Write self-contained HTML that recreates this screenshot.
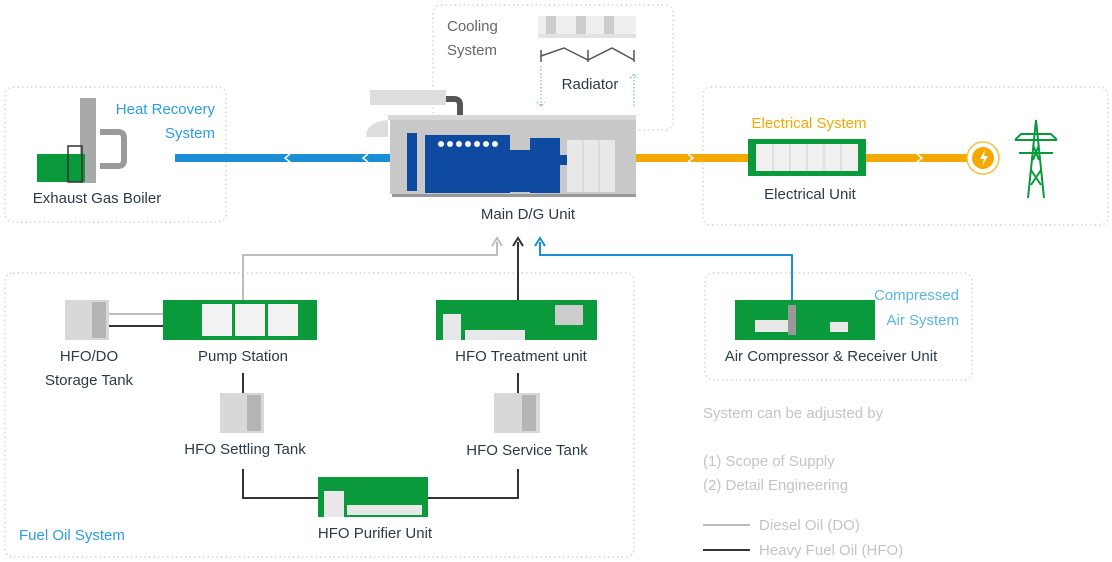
<!DOCTYPE html>
<html><head><meta charset="utf-8"><style>
html,body{margin:0;padding:0;background:#fff;}
svg{display:block;font-family:"Liberation Sans",sans-serif;}
</style></head><body>
<svg width="1112" height="562" viewBox="0 0 1112 562" xmlns="http://www.w3.org/2000/svg">
<g fill="none" stroke="#cfd6de" stroke-width="1.5" stroke-dasharray="1.5 3">
<rect x="5" y="87" width="221" height="135" rx="8"/>
<rect x="433" y="5" width="240" height="125" rx="8"/>
<rect x="703" y="87" width="405" height="138" rx="8"/>
<rect x="5" y="273" width="629" height="284" rx="8"/>
<rect x="705" y="273" width="267" height="107" rx="8"/>
</g>
<!-- heat recovery -->
<text x="215" y="114" font-size="15" fill="#2a9ee0" text-anchor="end">Heat Recovery</text>
<text x="215" y="138" font-size="15" fill="#2a9ee0" text-anchor="end">System</text>
<path d="M100 132 H118 Q124 132 124 138 V160 Q124 166 118 166 H100" fill="none" stroke="#9a9a9a" stroke-width="6"/>
<rect x="80" y="98" width="16" height="85" fill="#a9a9a9"/>
<rect x="37" y="154" width="48" height="28" fill="#0a9a3c"/>
<rect x="68" y="146" width="14" height="36" fill="none" stroke="#333" stroke-width="1.5"/>
<text x="97" y="203" font-size="15" fill="#2b3a4a" text-anchor="middle">Exhaust Gas Boiler</text>
<rect x="175" y="154" width="215" height="8" fill="#1a8fd6"/>
<path d="M290 154 l-5 4 l5 4" stroke="#fff" stroke-width="1.5" fill="none"/>
<path d="M368 154 l-5 4 l5 4" stroke="#fff" stroke-width="1.5" fill="none"/>
<!-- cooling -->
<text x="447" y="31" font-size="15" fill="#666">Cooling</text>
<text x="447" y="55" font-size="15" fill="#666">System</text>
<rect x="538" y="16" width="98" height="20" fill="#eee"/>
<rect x="546" y="16" width="10" height="18" fill="#ccc"/><rect x="576" y="16" width="10" height="18" fill="#ccc"/><rect x="604" y="16" width="10" height="18" fill="#ccc"/>
<rect x="538" y="34" width="98" height="4" fill="#e2e2e2"/>
<path d="M541 50 V62 M541 56 L564 48 L588 60 L612 48 L634 60 M588 50 V62 M634 50 V62" stroke="#555" stroke-width="1.5" fill="none"/>
<text x="590" y="89" font-size="15" fill="#2b3a4a" text-anchor="middle">Radiator</text>
<path d="M541 66 V106 M537 102 l4 4 l4 -4" stroke="#4cb870" stroke-width="1" stroke-dasharray="1.5 2" fill="none"/>
<path d="M634 106 V74 M630 78 l4 -4 l4 4" stroke="#4cb870" stroke-width="1" stroke-dasharray="1.5 2" fill="none"/>
<!-- main unit -->
<rect x="370" y="90" width="76" height="15" fill="#ddd"/>
<path d="M446 99 H454 Q460 99 460 105 V116" stroke="#555" stroke-width="6" fill="none"/>
<path d="M366 137 Q366 122 388 120 V137 Z" fill="#ddd"/>
<rect x="388" y="115" width="248" height="5" fill="#d8d8d8"/>
<rect x="390" y="120" width="246" height="74" fill="#c8c8c8"/>
<rect x="392" y="194" width="244" height="3" fill="#999"/>
<rect x="407" y="133" width="10" height="58" fill="#0d4aa0"/>
<rect x="425" y="135" width="85" height="58" fill="#0d4aa0"/>
<g fill="#fff"><circle cx="441" cy="144" r="3"/><circle cx="450" cy="144" r="3"/><circle cx="459" cy="144" r="3"/><circle cx="468" cy="144" r="3"/><circle cx="477" cy="144" r="3"/><circle cx="486" cy="144" r="3"/><circle cx="495" cy="144" r="3"/></g>
<rect x="505" y="150" width="30" height="42" fill="#0d4aa0"/>
<rect x="530" y="138" width="30" height="55" fill="#0d4aa0"/>
<rect x="560" y="155" width="8" height="10" fill="#0d4aa0"/>
<rect x="567" y="140" width="48" height="52" fill="#e8e8e8"/>
<path d="M583 140 V192 M599 140 V192" stroke="#ccc"/>
<text x="528" y="219" font-size="15" fill="#2b3a4a" text-anchor="middle">Main D/G Unit</text>
<!-- electrical -->
<text x="809" y="128" font-size="15" fill="#f5a800" text-anchor="middle">Electrical System</text>
<rect x="636" y="154" width="332" height="8" fill="#f5a800"/>
<path d="M688 154 l5 4 l-5 4 M812 154 l5 4 l-5 4 M917 154 l5 4 l-5 4" stroke="#fff" stroke-width="1.5" fill="none"/>
<rect x="748" y="139" width="118" height="37" fill="#0a9a3c"/>
<rect x="756" y="144" width="102" height="27" fill="#f0f0f0"/>
<path d="M773 144 V171 M790 144 V171 M807 144 V171 M824 144 V171 M841 144 V171" stroke="#ccc"/>
<text x="810" y="199" font-size="15" fill="#2b3a4a" text-anchor="middle">Electrical Unit</text>
<circle cx="983" cy="158" r="16" fill="#fff" stroke="#f5c040" stroke-width="1.5"/>
<circle cx="983" cy="158" r="11" fill="#f5a800"/>
<path d="M985 150 l-5 9 h4 l-2 7 l6 -10 h-4 z" fill="#fff"/>
<g stroke="#0a9a3c" stroke-width="2" fill="none">
<path d="M1028 198 L1036 120 L1044 198 M1031 170 L1041 185 M1041 170 L1031 185 M1033 145 L1039 160 M1039 145 L1033 160"/>
<path d="M1015 140 H1057 M1019 153 H1053 M1015 140 l6 -6 h30 l6 6"/>
</g>
<!-- connectors to main -->
<path d="M243 300 V255 H497 V242" stroke="#bdbdbd" stroke-width="2" fill="none"/>
<path d="M492 246 l5 -8 l5 8" stroke="#bdbdbd" stroke-width="2" fill="none"/>
<path d="M518 300 V242" stroke="#333" stroke-width="2" fill="none"/>
<path d="M513 246 l5 -8 l5 8" stroke="#333" stroke-width="2" fill="none"/>
<path d="M792 308 V255 H540 V242" stroke="#1a8fd6" stroke-width="2" fill="none"/>
<path d="M535 246 l5 -8 l5 8" stroke="#1a8fd6" stroke-width="2" fill="none"/>
<!-- fuel -->
<rect x="65" y="300" width="44" height="40" fill="#d8d8d8"/><rect x="92" y="302" width="14" height="36" fill="#b5b5b5"/>
<path d="M109 314 H165" stroke="#bdbdbd" stroke-width="2"/><path d="M109 326 H165" stroke="#333" stroke-width="2"/>
<rect x="163" y="300" width="154" height="40" fill="#0a9a3c"/>
<rect x="202" y="304" width="30" height="32" fill="#f2f2f2"/><rect x="235" y="304" width="30" height="32" fill="#f2f2f2"/><rect x="268" y="304" width="30" height="32" fill="#f2f2f2"/>
<text x="243" y="361" font-size="15" fill="#2b3a4a" text-anchor="middle">Pump Station</text>
<text x="89" y="361" font-size="15" fill="#2b3a4a" text-anchor="middle">HFO/DO</text>
<text x="89" y="385" font-size="15" fill="#2b3a4a" text-anchor="middle">Storage Tank</text>
<rect x="436" y="300" width="161" height="40" fill="#0a9a3c"/>
<rect x="443" y="314" width="18" height="26" fill="#e8e8e8"/><rect x="465" y="330" width="60" height="10" fill="#e8e8e8"/><rect x="555" y="305" width="28" height="20" fill="#ccc"/>
<text x="521" y="361" font-size="15" fill="#2b3a4a" text-anchor="middle">HFO Treatment unit</text>
<path d="M243 373 V393" stroke="#333" stroke-width="2"/><path d="M518 373 V393" stroke="#333" stroke-width="2"/>
<rect x="220" y="393" width="44" height="40" fill="#d8d8d8"/><rect x="247" y="395" width="14" height="36" fill="#b5b5b5"/>
<rect x="494" y="393" width="46" height="40" fill="#d8d8d8"/><rect x="522" y="395" width="14" height="36" fill="#b5b5b5"/>
<text x="245" y="454" font-size="15" fill="#2b3a4a" text-anchor="middle">HFO Settling Tank</text>
<text x="527" y="455" font-size="15" fill="#2b3a4a" text-anchor="middle">HFO Service Tank</text>
<path d="M243 469 V498 H320 M518 469 V498 H428" stroke="#333" stroke-width="2" fill="none"/>
<rect x="318" y="477" width="110" height="40" fill="#0a9a3c"/>
<rect x="324" y="491" width="20" height="26" fill="#e8e8e8"/><rect x="347" y="505" width="75" height="10" fill="#e8e8e8"/>
<text x="375" y="538" font-size="15" fill="#2b3a4a" text-anchor="middle">HFO Purifier Unit</text>
<text x="19" y="540" font-size="15" fill="#2a9ee0">Fuel Oil System</text>
<!-- air -->
<text x="959" y="300" font-size="15" fill="#5ab4e8" text-anchor="end">Compressed</text>
<text x="959" y="325" font-size="15" fill="#5ab4e8" text-anchor="end">Air System</text>
<rect x="735" y="300" width="140" height="40" fill="#0a9a3c"/>
<rect x="755" y="320" width="40" height="12" fill="#e8e8e8"/><rect x="788" y="305" width="8" height="30" fill="#999"/><rect x="830" y="322" width="18" height="10" fill="#e8e8e8"/>
<text x="831" y="361" font-size="15" fill="#2b3a4a" text-anchor="middle">Air Compressor &amp; Receiver Unit</text>
<!-- legend -->
<g font-size="15" fill="#c4c4c4">
<text x="703" y="418">System can be adjusted by</text>
<text x="703" y="466">(1) Scope of Supply</text>
<text x="703" y="490">(2) Detail Engineering</text>
<text x="759" y="530">Diesel Oil (DO)</text>
<text x="759" y="555">Heavy Fuel Oil (HFO)</text>
</g>
<path d="M703 525 H750" stroke="#bdbdbd" stroke-width="2"/>
<path d="M703 550 H750" stroke="#333" stroke-width="2"/>
</svg>
</body></html>
